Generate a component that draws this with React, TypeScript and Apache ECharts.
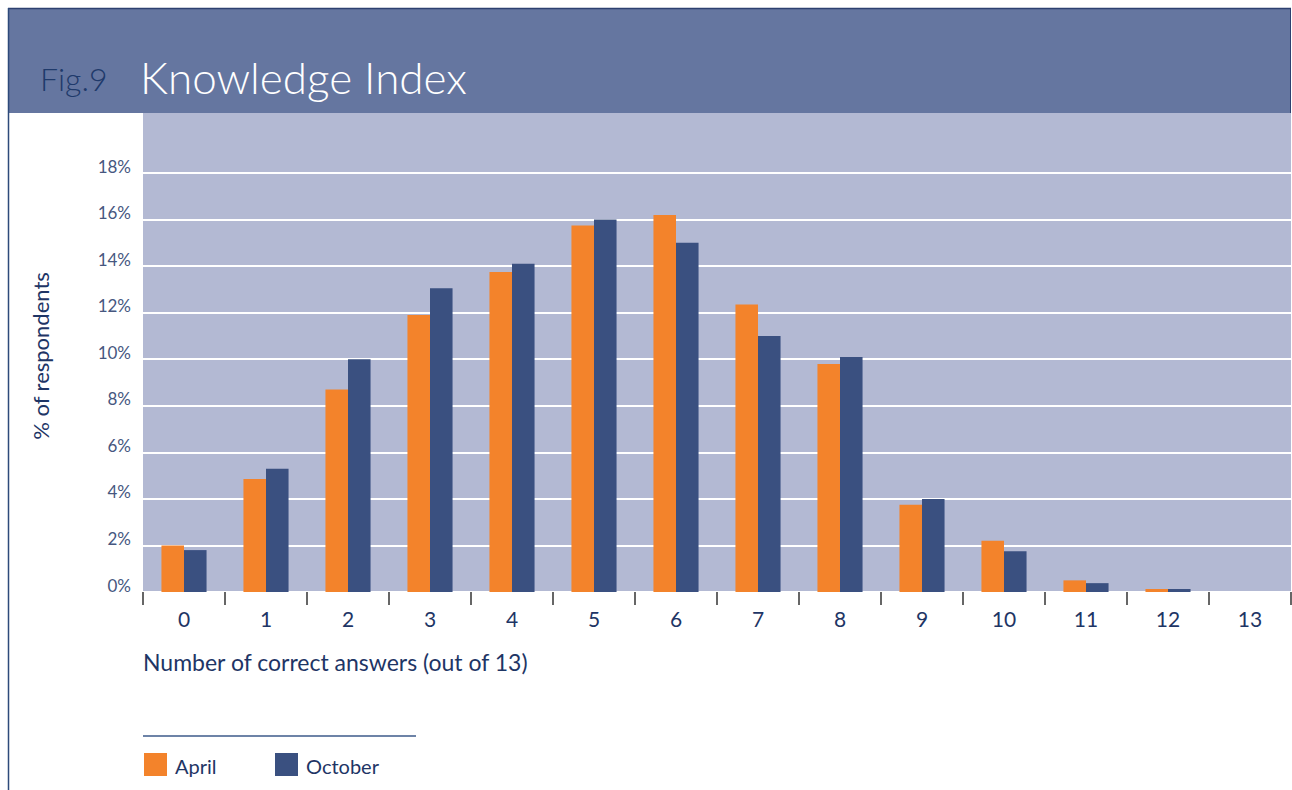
import React, { useEffect, useRef } from "react";
import * as echarts from "echarts";

const categories = ["0", "1", "2", "3", "4", "5", "6", "7", "8", "9", "10", "11", "12", "13"];
const april = [2.0, 4.85, 8.7, 11.9, 13.75, 15.75, 16.2, 12.35, 9.8, 3.75, 2.2, 0.5, 0.13, 0];
const october = [1.8, 5.3, 10.0, 13.05, 14.1, 16.0, 15.0, 11.0, 10.1, 4.0, 1.75, 0.38, 0.13, 0];
const yTicks = [0, 2, 4, 6, 8, 10, 12, 14, 16, 18];

const FONT = "Lato, 'Open Sans', sans-serif";
const NAVY_TEXT = "#1e3565";
const ORANGE = "#f3832b";
const NAVY = "#3a5080";

export default function App() {
  const ref = useRef<HTMLDivElement>(null);
  useEffect(() => {
    if (!ref.current) return;
    const chart = echarts.init(ref.current, undefined, { renderer: "svg" });
    chart.setOption({
      animation: false,
      backgroundColor: "#ffffff",
      textStyle: { fontFamily: FONT },
      grid: {
        left: 143,
        right: 1,
        top: 173,
        bottom: 198,
        show: true,
        backgroundColor: "#b3b9d3",
        borderWidth: 0,
      },
      xAxis: {
        type: "category",
        data: categories,
        boundaryGap: true,
        axisLine: { show: false },
        axisTick: { show: true, interval: 0, length: 13, lineStyle: { color: "#333", width: 1.5 } },
        axisLabel: { interval: 0, margin: 16, fontSize: 21, color: NAVY_TEXT, fontFamily: FONT },
        splitLine: { show: false },
      },
      yAxis: {
        type: "value",
        min: 0,
        max: yTicks[yTicks.length - 1],
        interval: 2,
        axisLine: { show: false },
        axisTick: { show: false },
        axisLabel: {
          margin: 12,
          fontSize: 17,
          color: "#46577f",
          fontFamily: FONT,
          verticalAlign: "bottom",
          lineHeight: 14,
          formatter: (v: number) => v + "%",
        },
        splitLine: { show: true, lineStyle: { color: "#ffffff", width: 2 } },
      },
      series: [
        {
          name: "April",
          type: "bar",
          data: april,
          barWidth: "27.5%",
          barGap: "0%",
          itemStyle: { color: ORANGE },
        },
        {
          name: "October",
          type: "bar",
          data: october,
          barWidth: "27.5%",
          barGap: "0%",
          itemStyle: { color: NAVY },
        },
      ],
      graphic: [
        { type: "rect", z: -10, shape: { x: 143, y: 113, width: 1148, height: 61 }, style: { fill: "#b3b9d3" } },
        { type: "rect", z: 10, shape: { x: 8, y: 8, width: 1283, height: 105 }, style: { fill: "#6576a0" } },
        { type: "line", z: 11, shape: { x1: 8, y1: 8.5, x2: 1291, y2: 8.5 }, style: { stroke: "#2d4070", lineWidth: 1.5 } },
        { type: "line", z: 11, shape: { x1: 1290.5, y1: 8, x2: 1290.5, y2: 113 }, style: { stroke: "#2d4070", lineWidth: 1 } },
        { type: "line", z: 11, shape: { x1: 8.5, y1: 8, x2: 8.5, y2: 790 }, style: { stroke: "#2d4a7a", lineWidth: 1.5 } },
        {
          type: "text", z: 12, x: 40, y: 78,
          style: { text: "Fig.9", fontSize: 32, fontFamily: FONT, fontWeight: 300, fill: "#1f3a6b", textVerticalAlign: "middle" },
        },
        {
          type: "text", z: 12, x: 140, y: 77,
          style: { text: "Knowledge Index", fontSize: 44, fontFamily: FONT, fontWeight: 300, fill: "#ffffff", textVerticalAlign: "middle" },
        },
        {
          type: "text", x: 40, y: 356, rotation: Math.PI / 2,
          style: { text: "% of respondents", fontSize: 22, fontFamily: FONT, fill: NAVY_TEXT, textAlign: "center", textVerticalAlign: "middle" },
        },
        {
          type: "text", x: 143, y: 662,
          style: { text: "Number of correct answers (out of 13)", fontSize: 23, fontFamily: FONT, fill: NAVY_TEXT, textVerticalAlign: "middle" },
        },
        { type: "line", shape: { x1: 143, y1: 736, x2: 416, y2: 736 }, style: { stroke: "#3d5a8a", lineWidth: 1.5 } },
        { type: "rect", shape: { x: 144, y: 753, width: 23, height: 23 }, style: { fill: ORANGE } },
        {
          type: "text", x: 175, y: 766,
          style: { text: "April", fontSize: 20, fontFamily: FONT, fill: NAVY_TEXT, textVerticalAlign: "middle" },
        },
        { type: "rect", shape: { x: 275, y: 753, width: 23, height: 23 }, style: { fill: NAVY } },
        {
          type: "text", x: 306, y: 766,
          style: { text: "October", fontSize: 20, fontFamily: FONT, fill: NAVY_TEXT, textVerticalAlign: "middle" },
        },
      ],
    });
    return () => chart.dispose();
  }, []);
  return (
    <div
      ref={ref}
      style={{ position: "absolute", left: 0, top: 0, width: 1292, height: 790 }}
    />
  );
}
